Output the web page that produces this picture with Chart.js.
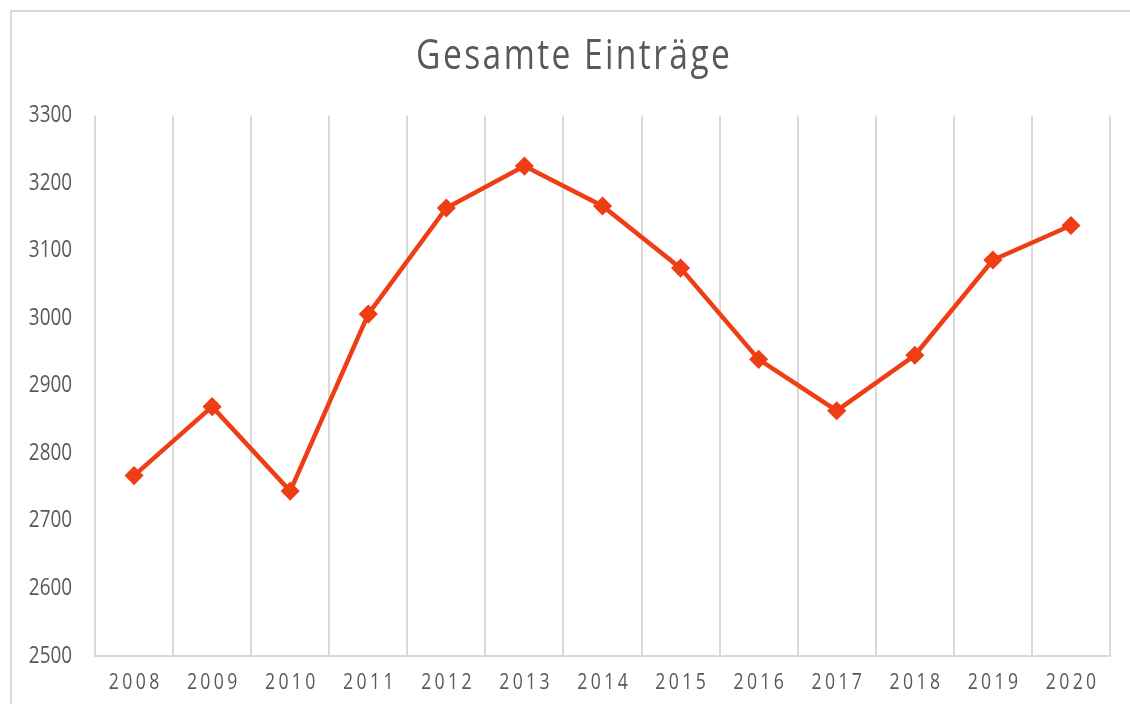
<!DOCTYPE html>
<html>
<head>
<meta charset="utf-8">
<script src="https://cdn.jsdelivr.net/npm/chart.js@4"></script>
<style>
  html, body { margin: 0; padding: 0; background: #fff; overflow: hidden; }
  .wrap { position: relative; width: 1130px; height: 704px; }
  .frame { position: absolute; left: 10px; top: 10px; width: 1300px; height: 900px; border: 2px solid #d9d9d9; box-sizing: border-box; }
  canvas { position: absolute; left: 0; top: 0; }
</style>
</head>
<body>
<div class="wrap">
  <div class="frame"></div>
  <canvas id="chart" width="1130" height="704"></canvas>
</div>
<script>
const YEARS = ['2008', '2009', '2010', '2011', '2012', '2013', '2014', '2015', '2016', '2017', '2018', '2019', '2020']
const ENTRIES = [2767, 2869, 2744, 3006, 3163, 3225, 3166, 3074, 2939, 2863, 2945, 3086, 3137]
const Y_MIN = 2500
const Y_MAX = 3300
const Y_STEP = 100
const TITLE = 'Gesamte Einträge'

const FONT = "'Open Sans', 'Noto Sans', sans-serif"
const TEXT = '#595959'
const GRID = '#d9d9d9'
const LINE = '#EF3D16'

// the reference font is narrow and spaced out; Chart.js has no option for that,
// so squeeze each text item around its anchor and add letter spacing
const squeeze = (obj, method, sx, gap, shift) => {
  if (obj['_sq_' + method]) return
  const orig = obj[method]
  obj[method] = function(...args) {
    const c = this.ctx
    const rot = c.rotate
    c.save()
    c.letterSpacing = gap + 'px'
    c.rotate = function(a) {
      rot.call(this, a)
      this.scale(sx, 1)
      this.translate(shift, 0)
    }
    orig.apply(this, args)
    c.rotate = rot
    c.restore()
  }
  obj['_sq_' + method] = true
}

const textStyle = {
  id: 'textStyle',
  afterLayout(chart) {
    squeeze(chart.scales.x, 'drawLabels', 0.84, 4, 2)
    squeeze(chart.scales.y, 'drawLabels', 0.82, 0, 0)
    if (chart.titleBlock) {
      // title is centred on the outer frame, not on the canvas
      squeeze(chart.titleBlock, 'draw', 0.8, 3, 1.5 + 18 / 0.8)
    }
  }
}

new Chart(document.getElementById('chart'), {
  type: 'line',
  data: {
    labels: YEARS,
    datasets: [{
      data: ENTRIES,
      borderColor: LINE,
      backgroundColor: LINE,
      borderWidth: 4.5,
      pointStyle: 'rectRot',
      pointRadius: 8.5,
      pointBorderWidth: 1.5,
      tension: 0
    }]
  },
  options: {
    responsive: false,
    animation: false,
    layout: { padding: { left: 0, right: 20, top: 0, bottom: 0 } },
    plugins: {
      legend: { display: false },
      tooltip: { enabled: false },
      title: {
        display: true,
        text: TITLE,
        color: TEXT,
        font: { family: FONT, size: 42, weight: 'normal' },
        padding: { top: 32, bottom: 33 }
      }
    },
    scales: {
      x: {
        offset: true,
        grid: { display: true, offset: true, color: GRID, lineWidth: 2, drawTicks: false },
        border: { display: true, color: GRID, width: 2 },
        ticks: { color: TEXT, font: { family: FONT, size: 21 }, padding: 14, maxRotation: 0 },
        afterFit: (s) => { s.height = 48 }
      },
      y: {
        min: Y_MIN,
        max: Y_MAX,
        grid: { display: false, drawTicks: false },
        border: { display: false },
        ticks: {
          stepSize: Y_STEP,
          color: TEXT,
          font: { family: FONT, size: 23 },
          padding: 23,
          callback: (v) => String(v)
        },
        afterFit: (s) => { s.width = 95 }
      }
    }
  },
  plugins: [textStyle]
})
</script>
</body>
</html>
